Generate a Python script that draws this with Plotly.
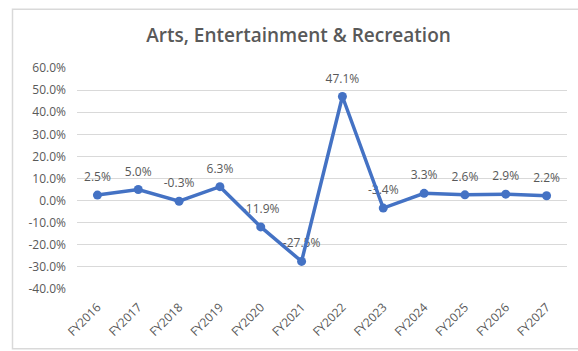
import plotly.graph_objects as go

# Fiscal years and year-over-year growth (%)
years = ["FY2016", "FY2017", "FY2018", "FY2019", "FY2020", "FY2021",
         "FY2022", "FY2023", "FY2024", "FY2025", "FY2026", "FY2027"]
growth = [2.5, 5.0, -0.3, 6.3, -11.9, -27.5, 47.1, -3.4, 3.3, 2.6, 2.9, 2.2]
y_ticks = [60, 50, 40, 30, 20, 10, 0, -10, -20, -30, -40]

TEXT = "#595959"
GRID = "#d9d9d9"
BLUE = "#4472C4"
FONT = "Open Sans, sans-serif"

W, H = 578, 351
L, R, T, B = 77, 11, 67.5, 61.5
pw, ph = W - L - R, H - T - B

fig = go.Figure()

# value labels (drawn first so the line passes over them)
fig.add_trace(go.Scatter(
    x=years, y=growth,
    mode="markers+text",
    marker=dict(size=16, opacity=0),
    text=[f"{v:.1f}%" for v in growth],
    textposition="top center",
    textfont=dict(family=FONT, size=12, color=TEXT),
    cliponaxis=False,
    hoverinfo="skip",
))

# growth line
fig.add_trace(go.Scatter(
    x=years, y=growth,
    mode="lines+markers",
    line=dict(color=BLUE, width=3.5),
    marker=dict(color=BLUE, size=9),
    cliponaxis=False,
    hoverinfo="skip",
))

def px_to_paper_x(px):
    return (px - L) / pw

def px_to_paper_y(py):
    return (H - B - py) / ph

# chart-area frame
fig.add_shape(type="rect", xref="paper", yref="paper",
              x0=px_to_paper_x(12.5), x1=px_to_paper_x(590),
              y0=px_to_paper_y(349.5), y1=px_to_paper_y(8.5),
              line=dict(color=GRID, width=1.5), layer="below")

fig.update_layout(
    width=W, height=H,
    margin=dict(l=L, r=R, t=T, b=B),
    paper_bgcolor="white", plot_bgcolor="white",
    showlegend=False,
    title=dict(text="Arts, Entertainment & Recreation",
               x=298.5 / W, xanchor="center",
               y=1 - 35 / H, yanchor="middle",
               font=dict(family=FONT, size=19, color=TEXT, weight=600)),
    xaxis=dict(range=[-0.5, 11.5], showgrid=False, showline=False, zeroline=False,
               ticks="", tickangle=-45, ticklabelstandoff=8,
               tickfont=dict(family=FONT, size=12, color=TEXT)),
    yaxis=dict(range=[-40, 60], tickvals=y_ticks,
               ticktext=[f"{v:.1f}%" for v in y_ticks],
               showgrid=True, gridcolor=GRID, gridwidth=1,
               zeroline=False, showline=False, ticks="", ticklabelstandoff=10,
               tickfont=dict(family=FONT, size=12, color=TEXT)),
)

fig.write_html("out.html")
